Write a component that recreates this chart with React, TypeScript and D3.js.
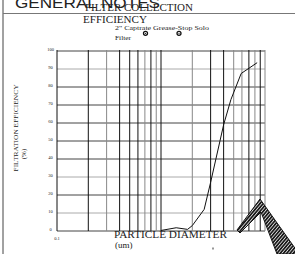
import React from 'react';
import * as d3 from 'd3';

const diameters = [1.0, 1.4, 1.8, 2.0, 2.6, 3.0, 4.0, 4.7, 5.9, 8.4];
const efficiency = [0.3, 1.8, 0.9, 3, 12, 27, 59, 73, 87.5, 93.5];

const yTicks = [0, 10, 20, 30, 40, 50, 60, 70, 80, 90, 100];
const xGrid = [0.1, 0.2, 0.3, 0.4, 0.5, 0.6, 0.7, 0.8, 0.9, 1, 2, 3, 4, 5, 6, 7, 8, 9, 10];
const xTickLabels = ['0.1'];
const lightX = [0.3, 0.7, 0.9, 2, 5, 6, 8, 10];
const lightY = [90, 30, 10];

const seriesName = '2" Captrate Grease-Stop Solo';
const seriesName2 = 'Filter';

const App: React.FC = () => {
  const width = 295;
  const height = 254;
  const plot = { left: 57, right: 265, top: 51, bottom: 231 };

  const xScale = d3.scaleLog().domain([0.1, 10]).range([plot.left, plot.right]);
  const yScale = d3.scaleLinear().domain([0, 100]).range([plot.bottom, plot.top]);

  const line = d3
    .line<number>()
    .x((d) => xScale(d))
    .y((_, i) => yScale(efficiency[i]));

  const serif = '"Liberation Serif", "Times New Roman", serif';
  const ink = '#222';

  return (
    <svg
      width={width}
      height={height}
      style={{ position: 'absolute', left: 0, top: 0, background: '#fff' }}
    >
      <defs>
        <pattern
          id="hatch"
          width="2.5"
          height="2.5"
          patternUnits="userSpaceOnUse"
          patternTransform="rotate(40)"
        >
          <rect width="2.5" height="2.5" fill="#1a1a1a" />
          <line x1="1.25" y1="0" x2="1.25" y2="2.5" stroke="#fff" strokeWidth="0.7" />
        </pattern>
      </defs>

      {/* sheet border */}
      <line x1={3} x2={3} y1={0} y2={height} stroke="#444" strokeWidth={1} />
      <line x1={3} x2={width} y1={13.5} y2={13.5} stroke="#777" strokeWidth={1} />
      <text
        x={15}
        y={7.5}
        fontFamily='"Liberation Sans", Arial, sans-serif'
        fontSize={15}
        fill={ink}
        textLength={145}
        lengthAdjust="spacingAndGlyphs"
      >
        GENERAL NOTES
      </text>

      {/* grid */}
      {yTicks.map((t) => (
        <line
          key={'h' + t}
          x1={plot.left}
          x2={plot.right}
          y1={yScale(t)}
          y2={yScale(t)}
          stroke={lightY.includes(t) ? '#aaa' : '#444'}
          strokeWidth={1}
        />
      ))}
      {xGrid.map((t) => (
        <line
          key={'v' + t}
          x1={xScale(t)}
          x2={xScale(t)}
          y1={plot.top - 1}
          y2={plot.bottom}
          stroke={lightX.includes(t) ? '#888' : '#111'}
          strokeWidth={1}
        />
      ))}

      {/* tick labels */}
      {yTicks.map((t) => (
        <text
          key={'yl' + t}
          x={50.5}
          y={yScale(t) - 1}
          fontFamily={serif}
          fontSize={4.5}
          fill={ink}
          textAnchor="middle"
          dominantBaseline="middle"
        >
          {t}
        </text>
      ))}
      {xTickLabels.map((t) => (
        <text
          key={'xl' + t}
          x={xScale(+t)}
          y={239.5}
          fontFamily={serif}
          fontSize={4.5}
          fill={ink}
          textAnchor="middle"
        >
          {t}
        </text>
      ))}

      {/* series */}
      <path d={line(diameters) || ''} fill="none" stroke="#111" strokeWidth={1} />

      {/* titles */}
      <text x={85} y={11} fontFamily={serif} fontSize={10.5} fill={ink} textLength={108} lengthAdjust="spacingAndGlyphs">
        FILTER COLLECTION
      </text>
      <text x={83} y={22.5} fontFamily={serif} fontSize={10} fill={ink} textLength={64} lengthAdjust="spacingAndGlyphs">
        EFFICIENCY
      </text>

      {/* legend */}
      <text x={115} y={30} fontFamily={serif} fontSize={6.5} fill={ink} textLength={94} lengthAdjust="spacingAndGlyphs">
        {seriesName}
      </text>
      <text x={115} y={39.5} fontFamily={serif} fontSize={6.5} fill={ink} textLength={16} lengthAdjust="spacingAndGlyphs">
        {seriesName2}
      </text>
      {[145.5, 179].map((cx) => (
        <g key={'m' + cx}>
          <circle cx={cx} cy={33.3} r={2} fill="#fff" stroke="#111" strokeWidth={1.3} />
          <circle cx={cx} cy={33.3} r={0.6} fill="#111" />
        </g>
      ))}

      {/* axis titles */}
      <text
        transform="translate(18.3,128) rotate(-90)"
        fontFamily={serif}
        fontSize={7}
        fill={ink}
        textAnchor="middle"
        textLength={87}
        lengthAdjust="spacingAndGlyphs"
      >
        FILTRATION EFFICIENCY
      </text>
      <text
        transform="translate(25.5,154) rotate(-90)"
        fontFamily={serif}
        fontSize={7}
        fill={ink}
        textAnchor="middle"
      >
        (%)
      </text>
      <text x={114} y={237.5} fontFamily={serif} fontSize={10.5} fill={ink} textLength={113} lengthAdjust="spacingAndGlyphs">
        PARTICLE DIAMETER
      </text>
      <text x={115} y={247.5} fontFamily={serif} fontSize={9} fill={ink}>
        (um)
      </text>

      {/* scan artifacts */}
      <polygon
        points="237,230 260,199 297,251 297,254 277,254 261,212 240,233"
        fill="url(#hatch)"
        stroke="#111"
        strokeWidth={1}
      />
      <rect x={212.5} y={247.5} width={1} height={2} fill="#333" />
    </svg>
  );
};

export default App;
